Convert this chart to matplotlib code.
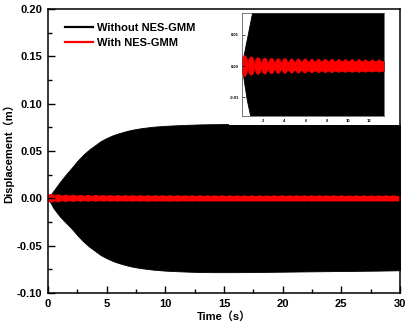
import numpy as np
import matplotlib.pyplot as plt
from matplotlib.patches import Ellipse, Rectangle
from matplotlib.lines import Line2D
from matplotlib.ticker import FormatStrFormatter, MultipleLocator

plt.rcParams['font.family'] = ['Liberation Sans', 'Noto Sans CJK SC']
plt.rcParams['font.weight'] = 'bold'

# envelope of the response without NES-GMM
env_t = [0, 0.5, 1, 1.5, 2, 2.5, 3, 3.5, 4, 4.5, 5, 5.5, 6, 6.5, 7, 7.5, 8, 9, 10, 11,
         12, 13, 14, 16, 18, 20, 22, 25, 28, 30]
env_top = [0, 0.0085, 0.017, 0.0248, 0.032, 0.0395, 0.046, 0.0515, 0.056, 0.0605,
           0.0637, 0.0665, 0.0686, 0.0704, 0.0720, 0.0732, 0.0742, 0.0757, 0.0766, 0.0772,
           0.0777, 0.0781, 0.0783, 0.0786, 0.0786, 0.0785, 0.0784, 0.0782, 0.0780, 0.0779]
env_bottom = [0, -0.011, -0.019, -0.0255, -0.0318, -0.039, -0.0455, -0.051, -0.0555, -0.060,
              -0.0633, -0.0661, -0.0683, -0.0701, -0.0717, -0.0729, -0.0739, -0.0754, -0.0764, -0.0770,
              -0.0775, -0.0778, -0.0780, -0.0780, -0.0778, -0.0775, -0.0772, -0.0768, -0.0764, -0.0760]

# response with NES-GMM: beating lobes around zero
lobe_period = 0.635
lobe_peak = [0.0034, 0.0030, 0.0027, 0.0026, 0.0025, 0.0024, 0.0024, 0.0023, 0.0023, 0.0023,
             0.0022, 0.0022, 0.0022, 0.0022, 0.0021, 0.0021, 0.0021, 0.0021, 0.0020, 0.0020,
             0.0020, 0.0020, 0.0020, 0.0020, 0.0020, 0.0020, 0.0020, 0.0020, 0.0020, 0.0020,
             0.0020, 0.0020, 0.0020, 0.0020, 0.0020, 0.0020, 0.0020, 0.0020, 0.0020, 0.0020,
             0.0020, 0.0020, 0.0020, 0.0020, 0.0020, 0.0020, 0.0020, 0.0020]
lobe_waist = [0.0002, 0.0004, 0.0006, 0.0008, 0.0010, 0.0011, 0.0012, 0.0013, 0.0014, 0.0014,
              0.0015, 0.0015, 0.0015, 0.0016, 0.0016, 0.0016, 0.0016, 0.0016, 0.0016, 0.0016,
              0.0016, 0.0016, 0.0016, 0.0016, 0.0016, 0.0016, 0.0016, 0.0016, 0.0016, 0.0016,
              0.0016, 0.0016, 0.0016, 0.0016, 0.0016, 0.0016, 0.0016, 0.0016, 0.0016, 0.0016,
              0.0016, 0.0016, 0.0016, 0.0016, 0.0016, 0.0016, 0.0016, 0.0016]
lobe_t = 0.25 + lobe_period * np.arange(len(lobe_peak))
lobe_waist = np.array(lobe_waist)

x_ticks = [0, 5, 10, 15, 20, 25, 30]
y_ticks = [-0.10, -0.05, 0.00, 0.05, 0.10, 0.15, 0.20]
inset_x_ticks = [2, 4, 6, 8, 10, 12]
inset_y_ticks = [-0.01, 0.00, 0.01]


def draw_response(ax, lw_red):
    ax.fill_between(env_t, env_bottom, env_top, color='black', lw=0.6)
    ax.fill_between(lobe_t, -lobe_waist, lobe_waist, color='red', lw=lw_red)
    for t, a in zip(lobe_t, lobe_peak):
        ax.add_patch(Ellipse((t, 0), lobe_period, 2 * a, color='red', lw=lw_red))


fig = plt.figure(figsize=(4.09, 3.27), dpi=100)
ax = fig.add_axes([0.1174, 0.104, 0.8606, 0.8685])
draw_response(ax, 1.5)

ax.set_xlim(0, 30)
ax.set_ylim(-0.10, 0.20)
ax.set_xticks(x_ticks)
ax.set_yticks(y_ticks)
ax.xaxis.set_minor_locator(MultipleLocator(2.5))
ax.yaxis.set_minor_locator(MultipleLocator(0.025))
ax.yaxis.set_major_formatter(FormatStrFormatter('%.2f'))
ax.tick_params(which='major', direction='in', length=5, width=1, labelsize=8, pad=4)
ax.tick_params(which='minor', direction='in', length=3, width=1)
for s in ax.spines.values():
    s.set_linewidth(1.1)
ax.set_xlabel('Time（s）', fontsize=8, fontweight='bold', labelpad=2)
ax.set_ylabel('Displacement（m）', fontsize=8, fontweight='bold', labelpad=2)

# white box behind the inset
ax.add_patch(Rectangle((0.514, 0.592), 0.486, 0.408, transform=ax.transAxes,
                       facecolor='white', edgecolor='none', zorder=2))

handles = [Line2D([], [], color='black', lw=1.6), Line2D([], [], color='red', lw=1.6)]
ax.legend(handles, ['Without NES-GMM', 'With NES-GMM'], loc='upper left',
          bbox_to_anchor=(0.02, 0.985), frameon=False, fontsize=8,
          handlelength=2.5, handletextpad=0.4, labelspacing=0.45)

axin = fig.add_axes([0.5917, 0.6453, 0.347, 0.315])
draw_response(axin, 0.3)
axin.set_xlim(0, 13.4)
axin.set_ylim(-0.016, 0.017)
axin.set_xticks(inset_x_ticks)
axin.set_yticks(inset_y_ticks)
axin.yaxis.set_major_formatter(FormatStrFormatter('%.2f'))
axin.tick_params(direction='in', length=2, width=0.5, labelsize=3, pad=2)
for s in axin.spines.values():
    s.set_linewidth(0.5)
    s.set_color('#444444')

fig.savefig('out.png', dpi=100)
